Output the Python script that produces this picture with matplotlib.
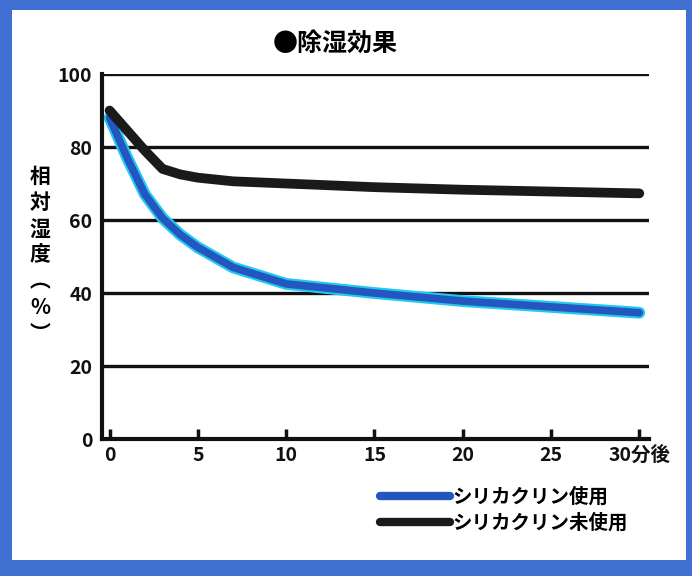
import matplotlib.pyplot as plt
from matplotlib.patches import Rectangle
from matplotlib.lines import Line2D

plt.rcParams['font.family'] = ['Noto Sans CJK JP', 'DejaVu Sans']

# minutes after start
minutes = [0, 1, 2, 3, 4, 5, 7, 10, 15, 20, 25, 30]
# relative humidity (%)
with_silica = [88, 77, 67, 60.5, 56, 52.5, 47, 42.5, 40, 37.8, 36.2, 34.6]
without_silica = [90, 84.5, 79, 74, 72.5, 71.6, 70.6, 70, 69, 68.3, 67.8, 67.3]

x_ticks = [0, 5, 10, 15, 20, 25, 30]
x_tick_labels = ['0', '5', '10', '15', '20', '25', '30分後']
y_ticks = [0, 20, 40, 60, 80, 100]

title = '●除湿効果'
ylabel = '相対湿度︵%︶'
label_with = 'シリカクリン使用'
label_without = 'シリカクリン未使用'

fig = plt.figure(figsize=(6.92, 5.76), dpi=100)
fig.patch.set_facecolor('#3f6fd0')
# white paper inside the scanned frame
fig.patches.append(Rectangle((12 / 692, 16 / 576), 674 / 692, 550 / 576,
                             transform=fig.transFigure, facecolor='white',
                             edgecolor='none', zorder=-5))

ax = fig.add_axes([102 / 692, 0.2378, 547 / 692, 0.6337])
ax.set_facecolor('none')

for y in y_ticks[1:]:
    ax.axhline(y, color='#111111', lw=2.4, zorder=1)

# blue line with a lighter cyan halo
ax.plot(minutes, with_silica, color='#22c8f0', lw=8.5, solid_capstyle='round', zorder=2)
ax.plot(minutes, with_silica, color='#2456c0', lw=5.5, solid_capstyle='round', zorder=3)
ax.plot(minutes, without_silica, color='#1a1a1a', lw=7, solid_capstyle='round', zorder=4)

ax.set_xlim(-0.43, 30.55)
ax.set_ylim(0, 100)
ax.set_xticks(x_ticks)
ax.set_xticklabels(x_tick_labels)
ax.set_yticks(y_ticks)

for s in ['top', 'right']:
    ax.spines[s].set_visible(False)
for s in ['left', 'bottom']:
    ax.spines[s].set_linewidth(3)
    ax.spines[s].set_color('#111111')

ax.tick_params(axis='both', direction='in', length=7, width=2.5, colors='#111111',
               labelsize=14, pad=5)
ax.tick_params(axis='y', length=0, pad=7)
for lbl in ax.get_xticklabels() + ax.get_yticklabels():
    lbl.set_fontweight('bold')

fig.text(335 / 692, 1 - 44 / 576, title, ha='center', va='center',
         fontsize=18, fontweight='bold')
fig.text(40 / 692, 1 - 255 / 576, '\n'.join(ylabel), ha='center', va='center',
         fontsize=15, fontweight='bold', linespacing=1.3)

handles = [
    Line2D([0], [0], color='#2456c0', lw=6, solid_capstyle='round'),
    Line2D([0], [0], color='#1a1a1a', lw=6, solid_capstyle='round'),
]
leg = fig.legend(handles, [label_with, label_without], loc='center left',
                 bbox_to_anchor=(370 / 692, 1 - 510 / 576), frameon=False,
                 fontsize=14, handlelength=3.6, handletextpad=0.15,
                 labelspacing=0.3, borderpad=0)
for t in leg.get_texts():
    t.set_fontweight('bold')

fig.savefig('out.png', dpi=100, facecolor=fig.get_facecolor())
